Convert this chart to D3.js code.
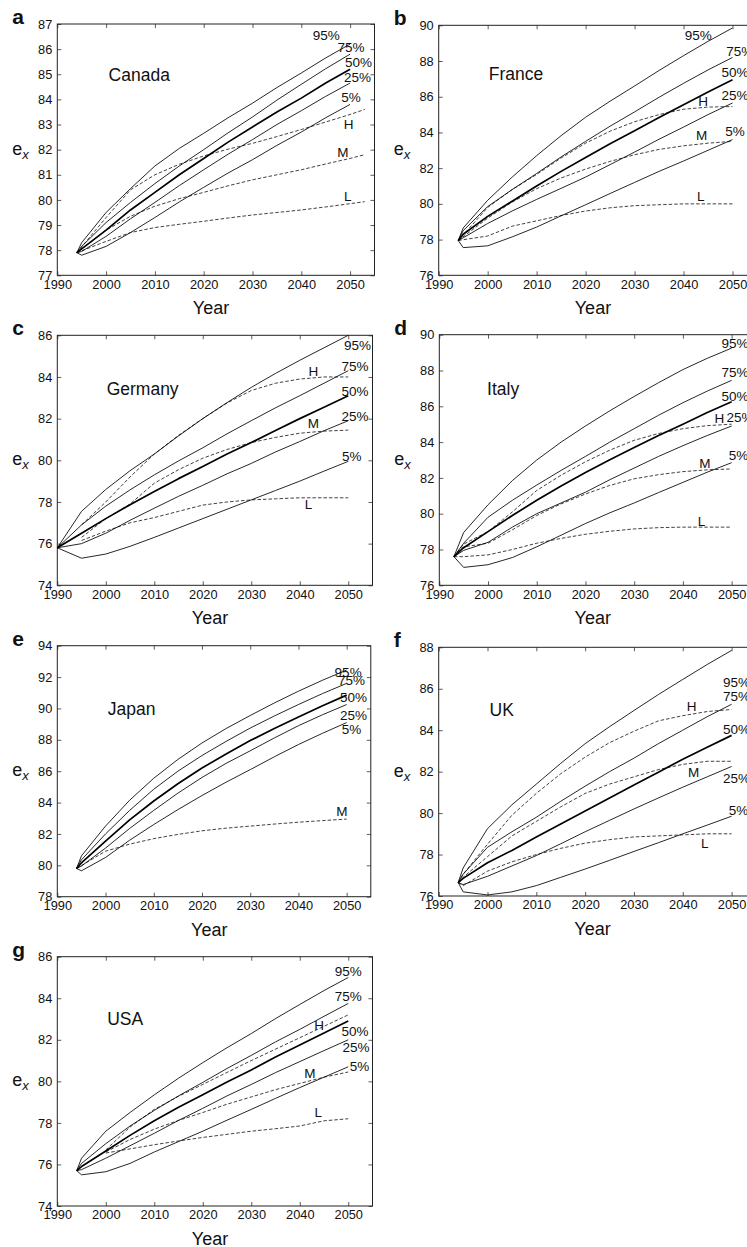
<!DOCTYPE html>
<html><head><meta charset="utf-8">
<script src="https://cdn.jsdelivr.net/npm/d3@7"></script>
<style>
body{margin:0;background:#fff}
svg{display:block}
text{font-family:"Liberation Sans",Arial,Helvetica,sans-serif;fill:#111}
</style>
</head><body>
<svg id="chart" width="747" height="1247"></svg>
<script>
// ---------------- DATA ----------------
const xTicks = [1990, 2000, 2010, 2020, 2030, 2040, 2050];
const pctNames = ["95%", "75%", "50%", "25%", "5%"];

// Canada
const canadaYears = [1994, 1995, 2000, 2005, 2010, 2015, 2020, 2025, 2030, 2035, 2040, 2045, 2050];
const canada95 = [77.9, 78.3, 79.5, 80.45, 81.35, 82.05, 82.65, 83.27, 83.85, 84.47, 85.05, 85.65, 86.2];
const canada75 = [77.9, 78.15, 79.1, 79.9, 80.65, 81.35, 82.0, 82.67, 83.3, 83.97, 84.6, 85.22, 85.8];
const canada50 = [77.9, 78.05, 78.8, 79.6, 80.3, 81.0, 81.65, 82.3, 82.9, 83.5, 84.05, 84.65, 85.2];
const canada25 = [77.9, 77.95, 78.55, 79.25, 79.9, 80.57, 81.2, 81.82, 82.4, 83.0, 83.55, 84.12, 84.65];
const canada05 = [77.9, 77.8, 78.15, 78.7, 79.3, 79.92, 80.5, 81.07, 81.6, 82.17, 82.7, 83.27, 83.8];
const canadaScenYears = [1994, 2000, 2005, 2010, 2015, 2020, 2025, 2030, 2035, 2040, 2045, 2050, 2053];
const canadaH = [77.9, 79.3, 80.4, 81.0, 81.42, 81.75, 82.02, 82.25, 82.52, 82.8, 83.1, 83.4, 83.6];
const canadaM = [77.9, 78.8, 79.35, 79.75, 80.05, 80.3, 80.56, 80.8, 81.0, 81.2, 81.43, 81.65, 81.8];
const canadaL = [77.9, 78.35, 78.7, 78.9, 79.03, 79.15, 79.28, 79.4, 79.5, 79.6, 79.72, 79.85, 79.93];
const canadaLabels = [["95%",2045.1,86.56],["75%",2050.2,86.06],["50%",2051.7,85.5],["25%",2051.5,84.9],["5%",2050.2,84.1],["H",2049.7,83.02],["M",2048.5,81.9],["L",2049.5,80.16]];

// France
const franceYears = [1994, 1995, 2000, 2005, 2010, 2015, 2020, 2025, 2030, 2035, 2040, 2045, 2050];
const france95 = [77.95, 78.65, 80.2, 81.5, 82.7, 83.82, 84.85, 85.75, 86.6, 87.47, 88.3, 89.1, 89.85];
const france75 = [77.95, 78.5, 79.85, 80.8, 81.7, 82.63, 83.5, 84.35, 85.15, 85.97, 86.75, 87.5, 88.2];
const france50 = [77.95, 78.3, 79.3, 80.15, 81.0, 81.82, 82.6, 83.37, 84.1, 84.84, 85.55, 86.27, 86.95];
const france25 = [77.95, 78.1, 78.9, 79.6, 80.25, 80.87, 81.5, 82.2, 82.9, 83.62, 84.3, 85.0, 85.65];
const france05 = [77.95, 77.55, 77.65, 78.15, 78.7, 79.33, 79.95, 80.58, 81.2, 81.82, 82.4, 83.0, 83.6];
const franceScenYears = [1994, 2000, 2005, 2010, 2015, 2020, 2025, 2030, 2035, 2040, 2045, 2050];
const franceH = [77.95, 79.8, 80.8, 81.65, 82.57, 83.4, 84.07, 84.6, 85.0, 85.3, 85.42, 85.45];
const franceM = [77.95, 79.2, 80.1, 80.85, 81.45, 81.95, 82.38, 82.75, 83.05, 83.25, 83.4, 83.5];
const franceL = [77.95, 78.2, 78.75, 79.05, 79.35, 79.6, 79.78, 79.9, 79.95, 80.0, 80.0, 80.0];
const franceLabels = [["95%",2043.0,89.46],["75%",2051.5,88.53],["50%",2050.5,87.4],["25%",2050.5,86.1],["H",2044.0,85.73],["M",2043.7,83.86],["5%",2050.5,84.05],["L",2043.5,80.44]];

// Germany
const germanyYears = [1990, 1995, 2000, 2005, 2010, 2015, 2020, 2025, 2030, 2035, 2040, 2045, 2050];
const germany95 = [75.8, 77.55, 78.6, 79.5, 80.3, 81.17, 82.0, 82.77, 83.5, 84.17, 84.8, 85.4, 86.0];
const germany75 = [75.8, 76.9, 77.8, 78.58, 79.3, 79.97, 80.6, 81.27, 81.9, 82.52, 83.1, 83.7, 84.3];
const germany50 = [75.8, 76.5, 77.2, 77.87, 78.5, 79.12, 79.7, 80.3, 80.85, 81.43, 82.0, 82.55, 83.1];
const germany25 = [75.8, 76.0, 76.5, 77.12, 77.7, 78.27, 78.8, 79.35, 79.85, 80.4, 80.9, 81.42, 81.9];
const germany05 = [75.8, 75.3, 75.5, 75.87, 76.3, 76.75, 77.2, 77.65, 78.1, 78.55, 79.0, 79.48, 79.95];
const germanyScenYears = [1995, 2000, 2005, 2010, 2015, 2020, 2025, 2030, 2035, 2040, 2045, 2050];
const germanyH = [76.9, 78.0, 79.2, 80.3, 81.2, 82.0, 82.75, 83.35, 83.7, 83.9, 84.0, 84.0];
const germanyM = [76.3, 77.2, 77.9, 78.9, 79.55, 80.1, 80.52, 80.85, 81.1, 81.3, 81.4, 81.45];
const germanyL = [76.15, 76.6, 77.0, 77.25, 77.55, 77.85, 78.0, 78.1, 78.15, 78.2, 78.2, 78.2];
const germanyLabels = [["95%",2051.9,85.54],["75%",2051.4,84.5],["H",2042.8,84.26],["50%",2051.4,83.33],["25%",2051.4,82.1],["M",2042.8,81.78],["5%",2050.7,80.22],["L",2041.8,77.9]];

// Italy
const italyYears = [1993, 1995, 2000, 2005, 2010, 2015, 2020, 2025, 2030, 2035, 2040, 2045, 2050];
const italy95 = [77.6, 78.95, 80.5, 81.85, 83.0, 84.0, 84.9, 85.75, 86.55, 87.32, 88.05, 88.68, 89.25];
const italy75 = [77.6, 78.35, 79.8, 80.75, 81.6, 82.42, 83.2, 84.0, 84.75, 85.5, 86.2, 86.85, 87.45];
const italy50 = [77.6, 78.1, 79.0, 79.9, 80.75, 81.55, 82.3, 83.02, 83.7, 84.37, 85.0, 85.65, 86.25];
const italy25 = [77.6, 77.95, 78.4, 79.25, 80.0, 80.6, 81.2, 81.9, 82.55, 83.2, 83.8, 84.37, 84.9];
const italy05 = [77.6, 77.0, 77.15, 77.55, 78.15, 78.8, 79.45, 80.05, 80.6, 81.18, 81.75, 82.32, 82.85];
const italyScenYears = [1993, 1995, 2000, 2005, 2010, 2015, 2020, 2025, 2030, 2035, 2040, 2045, 2050];
const italyH = [77.6, 78.3, 79.0, 80.1, 81.3, 82.15, 82.9, 83.55, 84.1, 84.48, 84.75, 84.92, 85.0];
const italyM = [77.6, 78.15, 78.35, 79.1, 79.9, 80.55, 81.1, 81.58, 81.95, 82.18, 82.35, 82.45, 82.5];
const italyL = [77.6, 77.6, 77.7, 78.0, 78.35, 78.62, 78.85, 79.02, 79.15, 79.22, 79.25, 79.25, 79.25];
const italyLabels = [["95%",2050.7,89.52],["75%",2050.7,87.93],["50%",2050.7,86.57],["H",2047.5,85.33],["25%",2051.7,85.38],["5%",2051.4,83.28],["M",2044.5,82.8],["L",2043.8,79.6]];

// Japan
const japanYears = [1994, 1995, 2000, 2005, 2010, 2015, 2020, 2025, 2030, 2035, 2040, 2045, 2050];
const japan95 = [79.8, 80.6, 82.5, 84.15, 85.55, 86.75, 87.8, 88.72, 89.55, 90.35, 91.1, 91.8, 92.45];
const japan75 = [79.8, 80.35, 82.0, 83.5, 84.85, 86.0, 87.0, 87.9, 88.75, 89.52, 90.25, 90.95, 91.6];
const japan50 = [79.8, 80.15, 81.55, 82.9, 84.1, 85.2, 86.2, 87.1, 87.95, 88.72, 89.45, 90.17, 90.85];
const japan25 = [79.8, 79.95, 81.1, 82.35, 83.5, 84.6, 85.6, 86.5, 87.3, 88.12, 88.9, 89.6, 90.25];
const japan05 = [79.8, 79.65, 80.5, 81.6, 82.6, 83.55, 84.45, 85.3, 86.1, 86.92, 87.7, 88.42, 89.1];
const japanScenYears = [1994, 2000, 2005, 2010, 2015, 2020, 2025, 2030, 2035, 2040, 2045, 2050];
const japanM = [79.8, 80.9, 81.35, 81.7, 81.97, 82.2, 82.37, 82.5, 82.63, 82.75, 82.85, 82.95];
const japanLabels = [["95%",2050.3,92.33],["75%",2051.0,91.8],["50%",2051.4,90.73],["25%",2051.4,89.6],["5%",2051.0,88.7],["M",2049.0,83.45]];

// UK
const ukYears = [1994, 1995, 2000, 2005, 2010, 2015, 2020, 2025, 2030, 2035, 2040, 2045, 2050];
const uk95 = [76.65, 77.35, 79.25, 80.4, 81.4, 82.4, 83.35, 84.17, 84.95, 85.72, 86.45, 87.17, 87.85];
const uk75 = [76.65, 77.05, 78.35, 79.1, 79.8, 80.57, 81.3, 82.0, 82.65, 83.35, 84.0, 84.65, 85.25];
const uk50 = [76.65, 76.85, 77.6, 78.2, 78.85, 79.48, 80.1, 80.73, 81.35, 81.97, 82.6, 83.18, 83.75];
const uk25 = [76.65, 76.55, 76.95, 77.45, 77.95, 78.52, 79.1, 79.65, 80.2, 80.73, 81.25, 81.75, 82.25];
const uk05 = [76.65, 76.2, 76.05, 76.2, 76.5, 76.9, 77.3, 77.72, 78.15, 78.57, 79.0, 79.42, 79.85];
const ukScenYears = [1994, 1995, 2000, 2005, 2010, 2015, 2020, 2025, 2030, 2035, 2040, 2045, 2050];
const ukH = [76.65, 77.05, 78.5, 79.9, 80.95, 81.9, 82.7, 83.4, 83.95, 84.45, 84.7, 84.9, 85.0];
const ukM = [76.65, 76.9, 77.9, 78.9, 79.6, 80.3, 80.95, 81.4, 81.75, 82.1, 82.35, 82.5, 82.5];
const ukL = [76.65, 76.5, 77.2, 77.65, 78.0, 78.3, 78.55, 78.72, 78.85, 78.9, 78.95, 79.0, 79.0];
const ukLabels = [["95%",2051.0,86.31],["75%",2051.0,85.62],["H",2041.8,85.14],["50%",2051.0,84.04],["M",2042.2,82.0],["25%",2051.0,81.71],["5%",2051.4,80.15],["L",2044.5,78.54]];

// USA
const usaYears = [1994, 1995, 2000, 2005, 2010, 2015, 2020, 2025, 2030, 2035, 2040, 2045, 2050];
const usa95 = [75.7, 76.3, 77.6, 78.5, 79.35, 80.15, 80.9, 81.62, 82.3, 83.02, 83.7, 84.37, 85.0];
const usa75 = [75.7, 76.05, 77.0, 77.85, 78.6, 79.3, 79.95, 80.62, 81.25, 81.9, 82.5, 83.13, 83.75];
const usa50 = [75.7, 75.9, 76.65, 77.4, 78.1, 78.75, 79.35, 79.97, 80.55, 81.17, 81.75, 82.33, 82.9];
const usa25 = [75.7, 75.75, 76.3, 76.9, 77.5, 78.12, 78.7, 79.3, 79.85, 80.42, 80.95, 81.48, 82.0];
const usa05 = [75.7, 75.5, 75.65, 76.05, 76.6, 77.1, 77.6, 78.13, 78.65, 79.18, 79.7, 80.2, 80.7];
const usaScenYears = [2000, 2005, 2010, 2015, 2020, 2025, 2030, 2035, 2040, 2045, 2050];
const usaH = [76.7, 77.8, 78.65, 79.28, 79.85, 80.43, 81.0, 81.55, 82.1, 82.65, 83.2];
const usaM = [76.6, 77.2, 77.7, 78.12, 78.5, 78.9, 79.25, 79.6, 79.9, 80.2, 80.45];
const usaL = [76.55, 76.75, 76.95, 77.13, 77.3, 77.45, 77.6, 77.72, 77.85, 78.1, 78.2];
const usaLabels = [["95%",2050.0,85.31],["75%",2050.0,84.1],["H",2044.0,82.71],["50%",2051.4,82.44],["25%",2051.6,81.64],["5%",2052.3,80.75],["M",2042.1,80.38],["L",2043.8,78.5]];

// ---------------- PANELS ----------------
const panels = [
  {letter:"a", name:"Canada", nameAt:[2006.8,84.97], yDomain:[77,87], yStep:1,
   years:canadaYears, pct:[canada95,canada75,canada50,canada25,canada05],
   scenYears:canadaScenYears, scen:[canadaH,canadaM,canadaL], labels:canadaLabels,
   box:{left:57.3, top:24, right:374.5, bottom:275.3}},
  {letter:"b", name:"France", nameAt:[2005.8,87.3], yDomain:[76,90], yStep:2,
   years:franceYears, pct:[france95,france75,france50,france25,france05],
   scenYears:franceScenYears, scen:[franceH,franceM,franceL], labels:franceLabels,
   box:{left:438.7, top:25.3, right:757, bottom:275.3}},
  {letter:"c", name:"Germany", nameAt:[2007.6,83.46], yDomain:[74,86], yStep:2,
   years:germanyYears, pct:[germany95,germany75,germany50,germany25,germany05],
   scenYears:germanyScenYears, scen:[germanyH,germanyM,germanyL], labels:germanyLabels,
   box:{left:57.3, top:335.3, right:372.5, bottom:585.3}},
  {letter:"d", name:"Italy", nameAt:[2003.1,87.0], yDomain:[76,90], yStep:2,
   years:italyYears, pct:[italy95,italy75,italy50,italy25,italy05],
   scenYears:italyScenYears, scen:[italyH,italyM,italyL], labels:italyLabels,
   box:{left:439.3, top:334.7, right:756, bottom:585.3}},
  {letter:"e", name:"Japan", nameAt:[2005.4,89.98], yDomain:[78,94], yStep:2,
   years:japanYears, pct:[japan95,japan75,japan50,japan25,japan05],
   scenYears:japanScenYears, scen:[japanM], labels:japanLabels,
   box:{left:57.3, top:645.7, right:370.8, bottom:896.7}},
  {letter:"f", name:"UK", nameAt:[2002.9,84.98], yDomain:[76,88], yStep:2,
   years:ukYears, pct:[uk95,uk75,uk50,uk25,uk05],
   scenYears:ukScenYears, scen:[ukH,ukM,ukL], labels:ukLabels,
   box:{left:438.7, top:647.3, right:756, bottom:896}},
  {letter:"g", name:"USA", nameAt:[2004.0,83.03], yDomain:[74,86], yStep:2,
   years:usaYears, pct:[usa95,usa75,usa50,usa25,usa05],
   scenYears:usaScenYears, scen:[usaH,usaM,usaL], labels:usaLabels,
   box:{left:57.3, top:956.7, right:372.5, bottom:1206}}
];

// ---------------- DRAW ----------------
const svg = d3.select("#chart");
svg.append("rect").attr("width",747).attr("height",1247).attr("fill","#fff");

panels.forEach(p => {
  const b = p.box;
  const w = b.right - b.left, h = b.bottom - b.top;
  const x = d3.scaleLinear().domain([1990, 2055]).range([0, w]);
  const y = d3.scaleLinear().domain(p.yDomain).range([h, 0]);
  const yTicks = d3.range(p.yDomain[0], p.yDomain[1] + 0.001, p.yStep);
  const g = svg.append("g").attr("transform", `translate(${b.left},${b.top})`);

  // axes (inward ticks on all four sides)
  const ax = (sel) => { sel.select(".domain").remove(); sel.selectAll(".tick line").attr("stroke","#333").attr("stroke-width",0.8); };
  g.append("g").attr("transform",`translate(0,${h})`)
    .call(d3.axisBottom(x).tickValues(xTicks).tickFormat(d3.format("d")).tickSize(-4).tickPadding(4))
    .call(ax).call(s => s.selectAll("text").attr("font-size",12.8).attr("fill","#111").attr("dy","0.72em"));
  g.append("g")
    .call(d3.axisTop(x).tickValues(xTicks).tickFormat("").tickSize(-4)).call(ax);
  g.append("g")
    .call(d3.axisLeft(y).tickValues(yTicks).tickFormat(d3.format("d")).tickSize(-4).tickPadding(5))
    .call(ax).call(s => s.selectAll("text").attr("font-size",12.8).attr("fill","#111"));
  g.append("g").attr("transform",`translate(${w},0)`)
    .call(d3.axisRight(y).tickValues(yTicks).tickFormat("").tickSize(-4)).call(ax);

  g.append("rect").attr("width",w).attr("height",h)
    .attr("fill","none").attr("stroke","#222").attr("stroke-width",1);

  const line = d3.line().x(d => x(d[0])).y(d => y(d[1]));

  // scenario lines (dashed)
  p.scen.forEach(vals => {
    g.append("path").datum(p.scenYears.map((yr,i) => [yr, vals[i]]))
      .attr("d", line).attr("fill","none").attr("stroke","#111")
      .attr("stroke-width",0.8).attr("stroke-dasharray","3.5,2");
  });
  // percentile lines
  p.pct.forEach((vals, k) => {
    g.append("path").datum(p.years.map((yr,i) => [yr, vals[i]]))
      .attr("d", line).attr("fill","none").attr("stroke","#000")
      .attr("stroke-linejoin","round")
      .attr("stroke-width", k === 2 ? 1.7 : 0.85);
  });

  // line labels
  p.labels.forEach(l => {
    g.append("text").attr("x", x(l[1])).attr("y", y(l[2]))
      .attr("text-anchor","middle").attr("dy","0.36em")
      .attr("font-size",13.5).text(l[0]);
  });

  // country name
  g.append("text").attr("x", x(p.nameAt[0])).attr("y", y(p.nameAt[1]))
    .attr("text-anchor","middle").attr("dy","0.36em")
    .attr("font-size",17.5).text(p.name);

  // x title
  g.append("text").attr("x", x(2021.5)).attr("y", h + 39)
    .attr("text-anchor","middle").attr("font-size",18).text("Year");

  // y title e_x
  const yt = g.append("text").attr("x", -45).attr("y", h/2 + 5).attr("font-size",18);
  yt.append("tspan").text("e");
  yt.append("tspan").attr("font-style","italic").attr("font-size",13).attr("dy",4).text("x");

  // panel letter
  svg.append("text").attr("x", b.left - 45).attr("y", b.top + 0)
    .attr("font-size",21).attr("font-weight","bold").text(p.letter);
});
</script>
</body></html>
